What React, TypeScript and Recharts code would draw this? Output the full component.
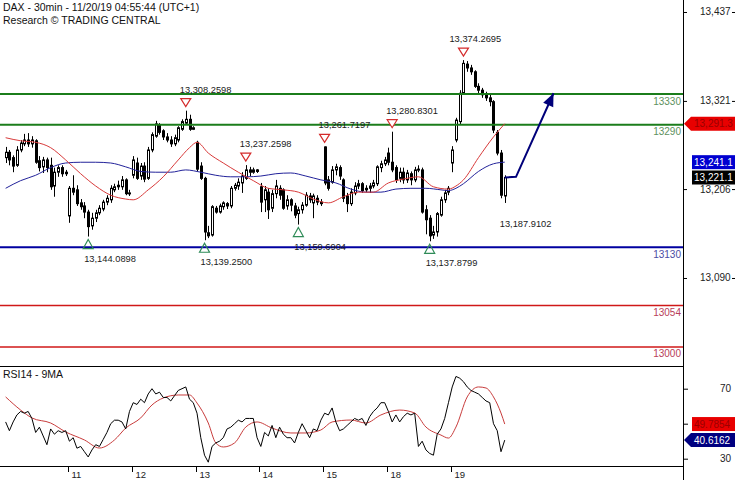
import React from 'react';
import { ComposedChart, Bar, Line, XAxis, YAxis, ReferenceLine, ReferenceDot } from 'recharts';

const FONT = '"Liberation Sans", Arial, Helvetica, sans-serif';

// ---------- DATA ----------
const opens = [
  13247, 13254, 13247, 13237, 13257, 13265, 13270, 13265, 13269, 13243,
  13235, 13244, 13237, 13210, 13228, 13234, 13226, 13171, 13207, 13205,
  13188, 13184, 13176, 13158, 13168, 13175, 13180, 13189, 13192, 13205,
  13209, 13209, 13218, 13200, 13224, 13240, 13223, 13236, 13220, 13257,
  13275, 13290, 13282, 13274, 13270, 13265, 13270, 13284, 13292, 13297,
  13284, 13267, 13236, 13220, 13149, 13146, 13181, 13176, 13183, 13187,
  13184, 13207, 13210, 13214, 13220, 13231, 13228, 13231, 13209, 13192,
  13202, 13181, 13200, 13207, 13205, 13184, 13192, 13184, 13174, 13179,
  13185, 13197, 13188, 13194, 13189, 13261, 13218, 13215, 13231, 13234,
  13218, 13197, 13187, 13201, 13210, 13213, 13205, 13207, 13210, 13213,
  13234, 13239, 13253, 13241, 13234, 13220, 13228, 13218, 13226, 13218,
  13231, 13231, 13179, 13168, 13146, 13150, 13172, 13192, 13202, 13240,
  13270, 13294, 13331, 13369, 13364, 13359, 13340, 13335, 13330, 13325,
  13320, 13280, 13253, 13197,
];
const highs = [
  13261, 13257, 13250, 13262, 13270, 13278, 13279, 13275, 13271, 13249,
  13248, 13247, 13247, 13234, 13237, 13237, 13231, 13210, 13224, 13211,
  13193, 13189, 13179, 13175, 13179, 13185, 13192, 13198, 13211, 13213,
  13217, 13223, 13220, 13205, 13249, 13247, 13240, 13241, 13261, 13280,
  13295, 13292, 13284, 13279, 13275, 13277, 13288, 13297, 13308.2598, 13303,
  13288, 13269, 13241, 13222, 13158, 13185, 13184, 13187, 13190, 13189,
  13210, 13214, 13220, 13228, 13237.2598, 13235, 13234, 13232, 13214, 13210,
  13207, 13205, 13218, 13211, 13207, 13198, 13194, 13188, 13183, 13189,
  13202, 13201, 13200, 13198, 13193, 13261.7197, 13223, 13236, 13239, 13237,
  13220, 13201, 13207, 13215, 13218, 13215, 13211, 13214, 13218, 13237,
  13243, 13248, 13260, 13280.8301, 13237, 13234, 13234, 13231, 13229, 13235,
  13237, 13234, 13185, 13172, 13158, 13176, 13196, 13205, 13210, 13262,
  13299, 13335, 13374.2695, 13373, 13368, 13361, 13344, 13338, 13333, 13329,
  13322, 13283, 13257, 13224,
];
const lows = [
  13240, 13237, 13228, 13235, 13254, 13262, 13261, 13260, 13239, 13229,
  13227, 13228, 13205, 13196, 13222, 13222, 13223, 13162, 13198, 13184,
  13179, 13168, 13144.0898, 13153, 13163, 13172, 13177, 13185, 13188, 13202,
  13205, 13205, 13198, 13197, 13220, 13218, 13218, 13215, 13218, 13254,
  13273, 13277, 13270, 13267, 13261, 13262, 13267, 13282, 13290, 13282,
  13283, 13229, 13218, 13139.25, 13142, 13144, 13174, 13174, 13179, 13180,
  13181, 13204, 13205, 13201, 13218, 13223, 13226, 13227, 13176, 13176,
  13167, 13176, 13194, 13192, 13179, 13179, 13177, 13168, 13159.6904, 13174,
  13183, 13188, 13168, 13185, 13184, 13211, 13204, 13213, 13224, 13218,
  13189, 13176, 13184, 13198, 13206, 13201, 13202, 13201, 13207, 13210,
  13228, 13236, 13237, 13228, 13214, 13215, 13213, 13214, 13211, 13215,
  13228, 13174, 13147, 13137.8799, 13141, 13144, 13170, 13188, 13198, 13228,
  13267, 13290, 13329, 13359, 13355, 13338, 13331, 13325, 13321, 13314,
  13279, 13250, 13194, 13187.9102,
];
const closes = [
  13254, 13244, 13236, 13257, 13266, 13270, 13265, 13270, 13241, 13234,
  13244, 13234, 13209, 13228, 13234, 13226, 13228, 13207, 13202, 13187,
  13183, 13176, 13157, 13168, 13175, 13181, 13189, 13194, 13207, 13209,
  13211, 13218, 13200, 13201, 13244, 13220, 13236, 13219, 13257, 13277,
  13291, 13280, 13274, 13270, 13265, 13273, 13286, 13294, 13297, 13284,
  13286, 13232, 13220, 13150, 13145, 13183, 13176, 13184, 13188, 13184,
  13207, 13211, 13215, 13223, 13231, 13228, 13231, 13229, 13189, 13205,
  13179, 13200, 13210, 13198, 13181, 13192, 13185, 13172, 13179, 13185,
  13198, 13192, 13197, 13189, 13187, 13214, 13207, 13231, 13235, 13223,
  13194, 13187, 13202, 13210, 13213, 13204, 13207, 13210, 13214, 13235,
  13239, 13244, 13241, 13231, 13218, 13228, 13218, 13227, 13218, 13231,
  13232, 13176, 13166, 13145, 13150, 13174, 13192, 13201, 13207, 13257,
  13296, 13331, 13370, 13364, 13359, 13340, 13335, 13329, 13325, 13320,
  13283, 13253, 13198, 13221.1,
];
// moving averages read at [barIndex, value]
const maRedPoints: [number, number][] = [
  [0, 13273], [4, 13269], [8, 13267], [12, 13260], [16, 13244], [20, 13226], [24, 13210],
  [28, 13198], [32, 13193], [34, 13192], [38, 13205], [42, 13222], [46, 13244], [49, 13260],
  [51, 13267], [54, 13253], [58, 13240], [62, 13228], [66, 13217], [70, 13207], [74, 13205],
  [78, 13202], [82, 13193], [86, 13188], [90, 13196], [94, 13202], [98, 13202], [102, 13214],
  [106, 13219], [110, 13222], [114, 13209], [118, 13206], [120, 13210], [122, 13218],
  [126, 13247], [130, 13274], [133, 13291.3],
];
const maBluePoints: [number, number][] = [
  [0, 13207], [4, 13217], [8, 13224], [12, 13234], [16, 13240], [20, 13241], [24, 13241],
  [28, 13240], [32, 13235], [36, 13229], [40, 13228], [44, 13228], [48, 13231], [52, 13228],
  [56, 13224], [60, 13222], [64, 13222], [68, 13223], [72, 13226], [76, 13227], [80, 13223],
  [84, 13218], [88, 13214], [92, 13206], [96, 13202], [100, 13202], [104, 13206], [108, 13207],
  [112, 13207], [116, 13205], [118, 13204], [120, 13207], [122, 13213], [126, 13229],
  [130, 13239], [133, 13241.1],
];
const rsiValues = [
  51, 46, 51, 55, 57, 56, 57, 53, 45, 48,
  43, 38, 47, 44, 46, 45, 46, 40, 42, 36,
  37, 34, 31, 35, 38, 37, 41, 45, 50, 52,
  52, 51, 47, 57, 62, 61, 64, 62, 67, 70,
  67, 68, 65, 65, 63, 66, 69, 70, 71, 64,
  62, 56, 42, 32, 28, 37, 39, 40, 42, 47,
  48, 50, 52, 51, 53, 53, 53, 42, 37, 45,
  43, 49, 42, 48, 44, 42, 42, 39, 45, 50,
  46, 42, 47, 46, 52, 56, 55, 59, 51, 46,
  47, 49, 51, 53, 52, 53, 49, 54, 57, 59,
  62, 62, 57, 51, 55, 51, 54, 56, 55, 56,
  37, 40, 35, 33, 32, 44, 47, 53, 62, 71,
  77, 76, 74, 71, 69, 68, 67, 65, 63, 62,
  50, 46, 34, 40.6162,
];
const rsiMaPoints: [number, number][] = [
  [0, 65.3], [4, 57.8], [7, 53.3], [12, 50.4], [16, 45.3], [21, 40.7], [25, 36.1], [29, 40.7],
  [32, 47.5], [36, 53.3], [39, 60.7], [42, 64.7], [46, 66.4], [49, 66.4], [51, 61.8], [54, 50.4],
  [56, 39.0], [58, 36.7], [61, 39.0], [64, 48.1], [67, 51.0], [71, 47.5], [76, 44.7], [80, 44.7],
  [84, 46.4], [87, 51.0], [92, 52.1], [96, 50.4], [100, 55.0], [105, 57.8], [109, 56.1],
  [112, 48.1], [116, 43.5], [118, 41.8], [120, 48.1], [123, 65.3], [126, 71.0], [128, 70.4],
  [130, 65.3], [132, 56.1], [133, 49.8],
];
const projectionPoints: [number, number][] = [[133, 13221.1], [136, 13222], [146, 13331]];
const dayLabels = ['11', '12', '13', '14', '15', '18', '19'];
const dayStartBars = [17, 34, 51, 68, 85, 102, 119];
const levelValues = [13330, 13290, 13130, 13054, 13000];
const priceTicks = [13090, 13206, 13321, 13437];
const rsiTicks = [30, 50, 70];
const highMarks = [
  { bar: 48, value: 13308.2598 },
  { bar: 64, value: 13237.2598 },
  { bar: 85, value: 13261.7197 },
  { bar: 103, value: 13280.8301 },
  { bar: 122, value: 13374.2695 },
];
const lowMarks = [
  { bar: 22, value: 13144.0898 },
  { bar: 53, value: 13139.25 },
  { bar: 78, value: 13159.6904 },
  { bar: 113, value: 13137.8799 },
];
const noteMarks = [{ bar: 133, value: 13187.9102 }];
const lastRedMa = 13291.3;
const lastBlueMa = 13241.1;
const lastClose = 13221.1;
const lastRsi = 40.6162;
const lastRsiMa = 49.8;
const lastRsiMaText = '49.7854';
const titleLines = ['DAX - 30min - 11/20/19 04:55:44 (UTC+1)', 'Research \u00A9 TRADING CENTRAL'];

// ---------- STYLES ----------
const levelStyles = [
  { stroke: '#1b7d1b', text: '#5e915e', width: 2 },
  { stroke: '#1b7d1b', text: '#5e915e', width: 2 },
  { stroke: '#0000a0', text: '#4b4ba3', width: 2 },
  { stroke: '#d01818', text: '#b8405a', width: 1.5 },
  { stroke: '#d01818', text: '#b8405a', width: 1.5 },
];
const labelShift: Record<number, number> = { 122: -14 };

// ---------- TABLE ----------
const LEAD = 1;
const SLOTS = 182;
const rows: any[] = Array.from({ length: SLOTS }, (_, k) => {
  const i = k - LEAD;
  const has = i >= 0 && i < opens.length;
  return {
    k,
    open: has ? opens[i] : null,
    high: has ? highs[i] : null,
    low: has ? lows[i] : null,
    close: has ? closes[i] : null,
    rsi: has ? rsiValues[i] : null,
    maRed: null,
    maBlue: null,
    rsiMa: null,
    proj: null,
  };
});
maRedPoints.forEach(([i, v]) => (rows[i + LEAD].maRed = v));
maBluePoints.forEach(([i, v]) => (rows[i + LEAD].maBlue = v));
rsiMaPoints.forEach(([i, v]) => (rows[i + LEAD].rsiMa = v));
projectionPoints.forEach(([i, v]) => (rows[i + LEAD].proj = v));
const projLastK = projectionPoints[projectionPoints.length - 1][0] + LEAD;

const fmt4 = (v: number) => v.toLocaleString('en-US', { minimumFractionDigits: 4, maximumFractionDigits: 4 });
const fmt0 = (v: number) => v.toLocaleString('en-US', { maximumFractionDigits: 0 });
const fmt1 = (v: number) => v.toLocaleString('en-US', { minimumFractionDigits: 1, maximumFractionDigits: 1 });

// ---------- SHAPES ----------
const Candle = (props: any) => {
  const { x, y, width, height, payload } = props;
  if (!payload || payload.high == null || x == null) return <g />;
  const { open, close, high, low } = payload;
  const top0 = Math.min(y, y + height);
  const h = Math.abs(height);
  const span = high - low || 1;
  const py = (v: number) => top0 + ((high - v) / span) * h;
  const c = Math.round(x + width / 2);
  const up = close >= open;
  const bt = py(Math.max(open, close));
  const bb = py(Math.min(open, close));
  const bh = Math.max(bb - bt, 1);
  return (
    <g>
      <line x1={c + 0.5} x2={c + 0.5} y1={top0} y2={bt} stroke="#000" strokeWidth={1} />
      <line x1={c + 0.5} x2={c + 0.5} y1={bt + bh} y2={top0 + h} stroke="#000" strokeWidth={1} />
      <rect x={c - 0.5} y={bt} width={2} height={bh} fill={up ? '#fff' : '#000'} stroke="#000" strokeWidth={1} />
    </g>
  );
};

const ArrowDot = (p: any) => {
  const { cx, cy, index, points } = p;
  if (index !== projLastK || cx == null || cy == null) return <g key={`ad${index}`} />;
  let ang = Math.atan2(-83.5, 37.7);
  if (Array.isArray(points)) {
    const valid = points.filter((q: any) => q && q.x != null && q.y != null && q.payload && q.payload.proj != null);
    const n = valid.length;
    if (n >= 2) ang = Math.atan2(valid[n - 1].y - valid[n - 2].y, valid[n - 1].x - valid[n - 2].x);
  }
  const L = 13, W = 5.5;
  const bx = cx - L * Math.cos(ang), by = cy - L * Math.sin(ang);
  const px = -Math.sin(ang) * W, pyy = Math.cos(ang) * W;
  return (
    <polygon key={`ad${index}`} points={`${cx},${cy} ${bx + px},${by + pyy} ${bx - px},${by - pyy}`} fill="#00007a" />
  );
};

const HighMark = ({ cx, cy, text, dx }: any) => (
  <g>
    <polygon points={`${cx - 5},${cy - 12} ${cx + 5},${cy - 12} ${cx},${cy - 4}`} fill="#fff" stroke="#d42a2a" strokeWidth={1.2} />
    <text x={cx + dx} y={cy - 18} fontSize={9.3} fill="#1a1a1a" fontFamily={FONT}>{text}</text>
  </g>
);
const LowMark = ({ cx, cy, text }: any) => (
  <g>
    <polygon points={`${cx - 5},${cy + 12} ${cx + 5},${cy + 12} ${cx},${cy + 3}`} fill="none" stroke="#2e8b57" strokeWidth={1.2} />
    <text x={cx - 4} y={cy + 25} fontSize={9.3} fill="#1a1a1a" fontFamily={FONT}>{text}</text>
  </g>
);
const NoteMark = ({ cx, cy, text }: any) => (
  <text x={cx - 5} y={cy + 24} fontSize={9.3} fill="#1a1a1a" fontFamily={FONT}>{text}</text>
);

const ValueTag = ({ viewBox, text, bg, fg, arrow, fs = 10 }: any) => {
  if (!viewBox) return <g />;
  const xr = viewBox.x + viewBox.width;
  const y = viewBox.y;
  const h = 14;
  const shape = arrow ? (
    <polygon points={`${xr + 1},${y} ${xr + 8},${y - h / 2} 740,${y - h / 2} 740,${y + h / 2} ${xr + 8},${y + h / 2}`} fill={bg} />
  ) : (
    <rect x={xr + 9} y={y - h / 2} width={60} height={h} fill={bg} />
  );
  return (
    <g>
      {shape}
      <text x={xr + 11} y={y + 3.8} fontSize={fs} fill={fg} fontFamily={FONT}>{text}</text>
    </g>
  );
};

const PriceTick = (p: any) => {
  const { x, y, payload } = p;
  return (
    <g>
      <line x1={x} x2={x + 4} y1={y + 0.5} y2={y + 0.5} stroke="#000" />
      <text x={x + 17} y={y + 3.5} fontSize={10} fill="#222" fontFamily={FONT}>{fmt0(payload.value)}</text>
      <line x1={x + 49} x2={x + 52} y1={y + 0.5} y2={y + 0.5} stroke="#000" />
    </g>
  );
};
const RsiTick = (p: any) => {
  const { x, y, payload } = p;
  return (
    <g>
      <line x1={x} x2={x + 5} y1={y + 0.5} y2={y + 0.5} stroke="#000" />
      {payload.value !== 50 ? (
        <text x={x + 48} y={y + 3.5} fontSize={10} fill="#222" textAnchor="end" fontFamily={FONT}>{payload.value}</text>
      ) : null}
    </g>
  );
};
const DayTick = (p: any) => {
  const { x, y, payload } = p;
  const idx = dayStartBars.findIndex((b) => b + LEAD === payload.value);
  if (idx < 0) return <g />;
  const tx = Math.round(x - 1.5) + 0.5;
  return (
    <g>
      <line x1={tx} x2={tx} y1={y} y2={y + 6} stroke="#000" />
      <text x={tx + 3} y={y + 12} fontSize={9.5} fill="#222" fontFamily={FONT}>{dayLabels[idx]}</text>
    </g>
  );
};

const PRICE_DOMAIN: [number, number] = [12975.2, 13452.65];
const RSI_DOMAIN: [number, number] = [25.83, 82.97];

export default function App() {
  return (
    <div style={{ position: 'absolute', left: 0, top: 0, width: 735, height: 480, background: '#fff', overflow: 'hidden', fontFamily: FONT }}>
      <div style={{ position: 'absolute', left: 0, top: 0 }}>
        <ComposedChart width={735} height={366} data={rows} margin={{ top: 0, right: 0, bottom: 0, left: 0 }}>
          <XAxis dataKey="k" type="category" scale="band" hide />
          <YAxis
            orientation="right"
            width={52}
            domain={PRICE_DOMAIN}
            allowDataOverflow
            ticks={priceTicks}
            interval={0}
            axisLine={false}
            tickLine={false}
            tickSize={0}
            tickMargin={0}
            tick={<PriceTick />}
          />
          {levelValues.map((v, n) => (
            <ReferenceLine
              key={`lv${v}`}
              y={v}
              stroke={levelStyles[n].stroke}
              strokeWidth={levelStyles[n].width}
              label={(lp: any) =>
                lp.viewBox ? (
                  <text x={lp.viewBox.x + lp.viewBox.width - 2} y={lp.viewBox.y + 10.5} fontSize={10} textAnchor="end" fill={levelStyles[n].text} fontFamily={FONT}>
                    {String(v)}
                  </text>
                ) : <g />
              }
            />
          ))}
          <Bar dataKey={(d: any) => (d.high == null ? null : [d.low, d.high])} shape={Candle} isAnimationActive={false} />
          <Line dataKey="maBlue" stroke="#22229a" strokeWidth={1} dot={false} connectNulls type="monotone" isAnimationActive={false} />
          <Line dataKey="maRed" stroke="#d83a3a" strokeWidth={1} dot={false} connectNulls type="monotone" isAnimationActive={false} />
          <Line dataKey="proj" stroke="#00007a" strokeWidth={2} dot={ArrowDot} connectNulls type="linear" isAnimationActive={false} />
          {highMarks.map((m) => (
            <ReferenceDot
              key={`h${m.bar}`}
              x={m.bar + LEAD}
              y={m.value}
              r={0}
              shape={(p: any) => <HighMark cx={p.cx} cy={p.cy} text={fmt4(m.value)} dx={labelShift[m.bar] ?? -6} />}
            />
          ))}
          {lowMarks.map((m) => (
            <ReferenceDot key={`l${m.bar}`} x={m.bar + LEAD} y={m.value} r={0} shape={(p: any) => <LowMark cx={p.cx} cy={p.cy} text={fmt4(m.value)} />} />
          ))}
          {noteMarks.map((m) => (
            <ReferenceDot key={`n${m.bar}`} x={m.bar + LEAD} y={m.value} r={0} shape={(p: any) => <NoteMark cx={p.cx} cy={p.cy} text={fmt4(m.value)} />} />
          ))}
          <ReferenceLine y={lastRedMa} stroke="none" label={(lp: any) => <ValueTag viewBox={lp.viewBox} text={fmt1(lastRedMa)} bg="#e80000" fg="#9a0000" arrow />} />
          <ReferenceLine y={lastBlueMa} stroke="none" label={(lp: any) => <ValueTag viewBox={lp.viewBox} text={fmt1(lastBlueMa)} bg="#0000d0" fg="#ffffff" />} />
          <ReferenceLine y={lastClose} stroke="none" label={(lp: any) => <ValueTag viewBox={lp.viewBox} text={fmt1(lastClose)} bg="#000000" fg="#ffffff" />} />
        </ComposedChart>
      </div>
      <div style={{ position: 'absolute', left: 0, top: 366 }}>
        <ComposedChart width={735} height={114} data={rows} margin={{ top: 0, right: 0, bottom: 0, left: 0 }}>
          <XAxis dataKey="k" type="category" scale="band" height={14} interval={0} axisLine={false} tickLine={false} tickSize={0} tickMargin={0} tick={<DayTick />} />
          <YAxis
            orientation="right"
            width={52}
            domain={RSI_DOMAIN}
            allowDataOverflow
            ticks={rsiTicks}
            interval={0}
            axisLine={false}
            tickLine={false}
            tickSize={0}
            tickMargin={0}
            tick={<RsiTick />}
          />
          <Bar dataKey="pad" isAnimationActive={false} />
          <Line dataKey="rsiMa" stroke="#c83c3c" strokeWidth={1} dot={false} connectNulls type="monotone" isAnimationActive={false} />
          <Line dataKey="rsi" stroke="#000" strokeWidth={1} dot={false} type="linear" isAnimationActive={false} />
          <ReferenceLine y={lastRsiMa} stroke="none" label={(lp: any) => <ValueTag viewBox={lp.viewBox} text={lastRsiMaText} bg="#e80000" fg="#9a0000" />} />
          <ReferenceLine y={lastRsi} stroke="none" label={(lp: any) => <ValueTag viewBox={lp.viewBox} text={lastRsi.toFixed(4)} bg="#000080" fg="#ffffff" arrow />} />
        </ComposedChart>
      </div>
      <svg width={735} height={480} style={{ position: 'absolute', left: 0, top: 0, pointerEvents: 'none' }}>
        <text x={3} y={10.5} fontSize={10.5} fill="#111" fontFamily={FONT}>{titleLines[0]}</text>
        <text x={3} y={23.5} fontSize={10.5} fill="#111" fontFamily={FONT}>{titleLines[1]}</text>
        <text x={3} y={378} fontSize={10.5} fill="#111" fontFamily={FONT}>RSI14 - 9MA</text>
        <line x1={683.5} x2={683.5} y1={0} y2={480} stroke="#000" strokeWidth={1} />
        <line x1={0} x2={683} y1={366.5} y2={366.5} stroke="#000" strokeWidth={1} />
        <line x1={0} x2={683} y1={466.5} y2={466.5} stroke="#000" strokeWidth={1} />
      </svg>
    </div>
  );
}
